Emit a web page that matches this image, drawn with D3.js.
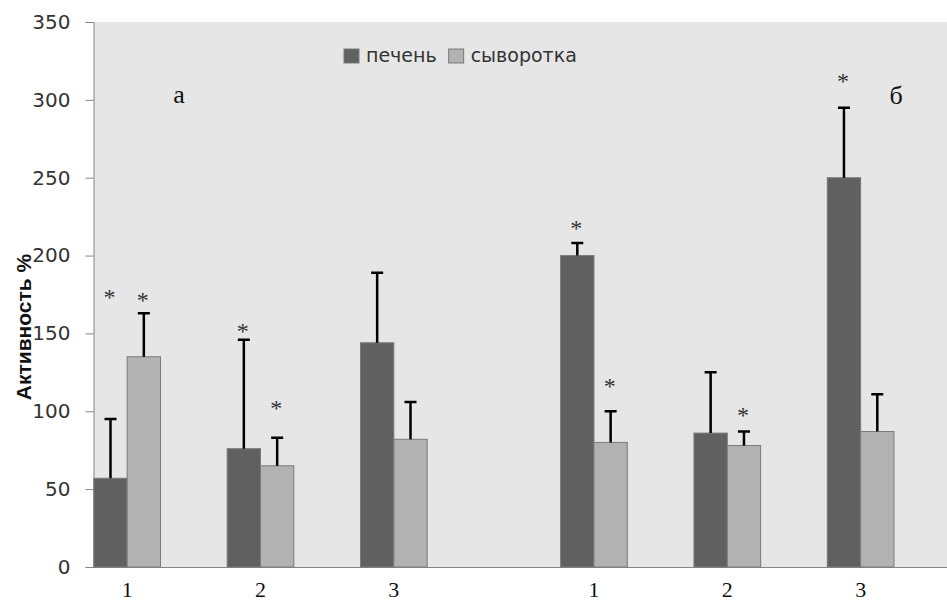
<!DOCTYPE html>
<html>
<head>
<meta charset="utf-8">
<script src="https://cdn.jsdelivr.net/npm/d3@7"></script>
<style>
  body { margin: 0; background: #fff; }
  svg { display: block; }
</style>
</head>
<body>
<svg id="chart" width="947" height="604"></svg>
<script>
// categories of each panel
var categories = ["1", "2", "3"];
var panels = ["а", "б"];
var series = ["печень", "сыворотка"];

// mean values, panel а then panel б
var liverA = [57, 76, 144];
var serumA = [135, 65, 82];
var liverB = [200, 86, 250];
var serumB = [80, 78, 87];

// top of error bars
var liverErrA = [95, 146, 189];
var serumErrA = [163, 83, 106];
var liverErrB = [208, 125, 295];
var serumErrB = [100, 87, 111];

// asterisk heights (null = no mark)
var liverStarA = [176, 154, null];
var serumStarA = [174, 105, null];
var liverStarB = [220, null, 315];
var serumStarB = [119, 100, null];

var yTicks = [0, 50, 100, 150, 200, 250, 300, 350];

var colors = { "печень": "#606060", "сыворотка": "#b2b2b2" };

var svg = d3.select("#chart");
var plot = { left: 94, top: 22, right: 947, bottom: 567 };

var y = d3.scaleLinear().domain([0, 350]).range([plot.bottom, plot.top]);

// plot background
svg.append("rect")
  .attr("x", plot.left)
  .attr("y", plot.top)
  .attr("width", plot.right - plot.left)
  .attr("height", plot.bottom - plot.top)
  .attr("fill", "#e6e6e6");

// y axis
var yAxis = svg.append("g")
  .attr("transform", "translate(" + (plot.left - 0.5) + ",0)")
  .call(d3.axisLeft(y).tickValues(yTicks).tickSize(8).tickPadding(15));
yAxis.select(".domain").attr("stroke", "#868686");
yAxis.selectAll(".tick line").attr("stroke", "#868686");
yAxis.selectAll(".tick text")
  .style("font-family", "DejaVu Sans, sans-serif")
  .style("font-size", "20px")
  .attr("fill", "#333");

// x axis baseline
svg.append("line")
  .attr("x1", plot.left - 8).attr("x2", plot.right)
  .attr("y1", plot.bottom + 0.5).attr("y2", plot.bottom + 0.5)
  .attr("stroke", "#868686");

// y title
svg.append("text")
  .attr("transform", "translate(31,327) rotate(-90)")
  .attr("text-anchor", "middle")
  .style("font-family", "Liberation Sans, Arial, sans-serif")
  .style("font-weight", "bold")
  .style("font-size", "21px")
  .attr("fill", "#111")
  .text("Активность %");

var panelData = [
  { name: panels[0], range: [60.5, 460.5], liver: liverA, serum: serumA,
    liverErr: liverErrA, serumErr: serumErrA, liverStar: liverStarA, serumStar: serumStarA },
  { name: panels[1], range: [527.3, 927.3], liver: liverB, serum: serumB,
    liverErr: liverErrB, serumErr: serumErrB, liverStar: liverStarB, serumStar: serumStarB }
];

panelData.forEach(function(p) {
  var x0 = d3.scaleBand().domain(categories).range(p.range).padding(0);
  var x1 = d3.scaleBand().domain(series)
    .range([x0.bandwidth() * 0.25, x0.bandwidth() * 0.75]);

  var rows = categories.map(function(c, i) {
    return [
      { cat: c, s: series[0], v: p.liver[i], err: p.liverErr[i], star: p.liverStar[i] },
      { cat: c, s: series[1], v: p.serum[i], err: p.serumErr[i], star: p.serumStar[i] }
    ];
  });
  var flat = [].concat.apply([], rows);

  var g = svg.append("g");

  g.selectAll("rect.bar")
    .data(flat)
    .enter().append("rect")
      .attr("class", "bar")
      .attr("x", function(d) { return x0(d.cat) + x1(d.s); })
      .attr("y", function(d) { return y(d.v); })
      .attr("width", x1.bandwidth())
      .attr("height", function(d) { return y(0) - y(d.v); })
      .attr("fill", function(d) { return colors[d.s]; })
      .attr("stroke", "#7a7a7a")
      .attr("stroke-width", 1);

  // error bars
  var cx = function(d) { return x0(d.cat) + x1(d.s) + x1.bandwidth() / 2; };
  g.selectAll("path.err")
    .data(flat)
    .enter().append("path")
      .attr("class", "err")
      .attr("d", function(d) {
        return "M" + cx(d) + "," + y(d.v) + "V" + y(d.err) +
               "M" + (cx(d) - 6) + "," + y(d.err) + "H" + (cx(d) + 6);
      })
      .attr("stroke", "#000")
      .attr("stroke-width", 2.5)
      .attr("fill", "none");

  // significance marks
  g.selectAll("text.star")
    .data(flat.filter(function(d) { return d.star != null; }))
    .enter().append("text")
      .attr("class", "star")
      .attr("x", function(d) { return cx(d) - 1; })
      .attr("y", function(d) { return y(d.star) + 12; })
      .attr("text-anchor", "middle")
      .style("font-family", "Liberation Serif, Times New Roman, serif")
      .style("font-size", "24px")
      .attr("fill", "#333")
      .text("*");

  // category labels
  g.selectAll("text.cat")
    .data(categories)
    .enter().append("text")
      .attr("class", "cat")
      .attr("x", function(c) { return x0(c) + x0.bandwidth() / 2; })
      .attr("y", 597)
      .attr("text-anchor", "middle")
      .style("font-family", "Liberation Serif, Times New Roman, serif")
      .style("font-size", "22px")
      .attr("fill", "#111")
      .text(function(c) { return c; });
});

// panel letters
svg.append("text")
  .attr("x", 179).attr("y", 103)
  .attr("text-anchor", "middle")
  .style("font-family", "Liberation Serif, Times New Roman, serif")
  .style("font-size", "26px")
  .attr("fill", "#111")
  .text(panels[0]);
svg.append("text")
  .attr("x", 896).attr("y", 104)
  .attr("text-anchor", "middle")
  .style("font-family", "Liberation Serif, Times New Roman, serif")
  .style("font-size", "26px")
  .attr("fill", "#111")
  .text(panels[1]);

// legend
var legend = svg.append("g").attr("transform", "translate(344,49)");
var lx = 0;
series.forEach(function(s) {
  var item = legend.append("g").attr("transform", "translate(" + lx + ",0)");
  item.append("rect")
    .attr("width", 15).attr("height", 14)
    .attr("fill", colors[s])
    .attr("stroke", "#7a7a7a");
  var t = item.append("text")
    .attr("x", 22).attr("y", 13)
    .style("font-family", "DejaVu Sans, sans-serif")
    .style("font-size", "19px")
    .attr("fill", "#333")
    .text(s);
  lx += 22 + t.node().getComputedTextLength() + 12;
});
</script>
</body>
</html>
